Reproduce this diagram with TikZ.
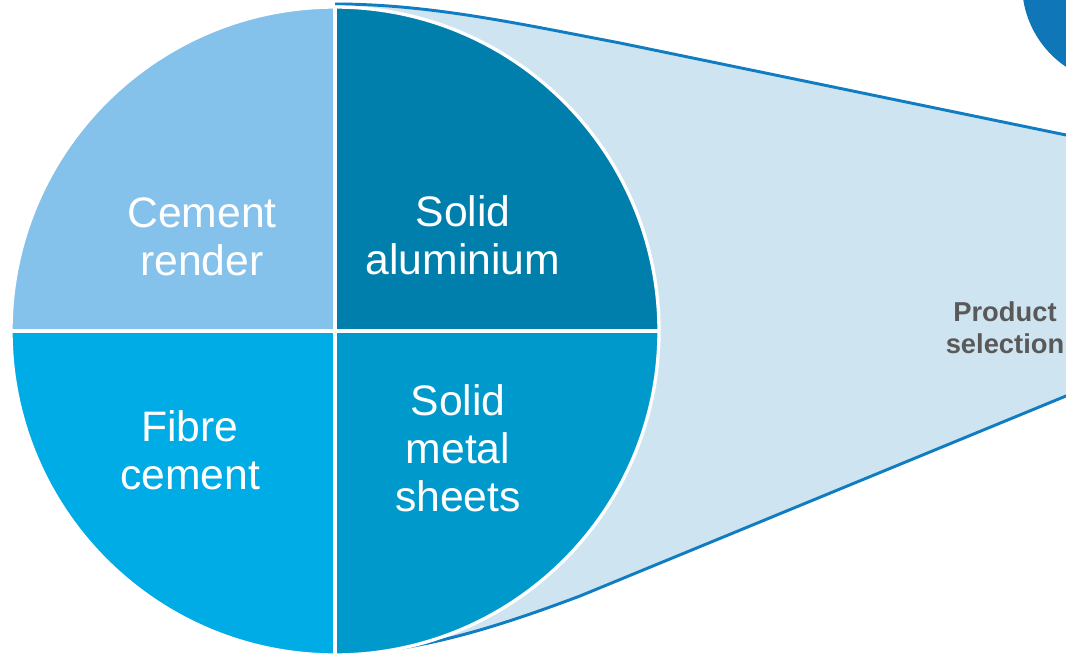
\documentclass[tikz,border=0pt]{standalone}
\usepackage{fontspec}
\setmainfont{Liberation Sans}
\definecolor{cementrender}{RGB}{133,194,235}
\definecolor{solidalu}{RGB}{0,127,172}
\definecolor{fibrecement}{RGB}{0,172,230}
\definecolor{solidmetal}{RGB}{0,153,204}
\definecolor{zoomfill}{RGB}{207,228,241}
\definecolor{zoomline}{RGB}{16,124,193}
\definecolor{labelgrey}{RGB}{89,89,89}
\begin{document}
\begin{tikzpicture}[x=0.75pt,y=0.75pt,
    quarter/.style={text=white, align=center, inner sep=0pt, font=\fontsize{32}{36}\selectfont},
    edge/.style={zoomline, line width=2.2pt}]
    \useasboundingbox (0,0) rectangle (1066,654);
    \clip (0,0) rectangle (1066,654);

    % zoom funnel behind the circle
    \coordinate (O) at (335,323);
    \coordinate (t0) at (335,650);
    \coordinate (t1) at (620,611);
    \coordinate (t2) at (1100,512);
    \coordinate (b0) at (340,0);
    \coordinate (b1) at (580,58);
    \coordinate (b2) at (1100,272);
    \fill[zoomfill] (t0) .. controls (430,650) and (520,630) .. (t1) -- (t2) -- (b2) -- (b1) .. controls (500,28) and (420,2) .. (b0) -- cycle;
    \draw[edge] (t0) .. controls (430,650) and (520,630) .. (t1) -- (t2);
    \draw[edge] (b0) .. controls (420,2) and (500,28) .. (b1) -- (b2);

    % next circle, cut by the corner
    \fill[zoomline!95!black] (1122,670) circle (100);

    % four quarters
    \foreach \a/\c in {0/solidalu, 90/cementrender, 180/fibrecement, 270/solidmetal}
        \fill[\c] (O) -- ++(\a:324) arc[start angle=\a, end angle=\a+90, radius=324] -- cycle;
    \draw[white, line width=2.5pt] (O) circle (324);
    \draw[white, line width=3pt] (O) ++(-324,0) -- ++(648,0);
    \draw[white, line width=3pt] (O) ++(0,-324) -- ++(0,648);

    \node[quarter] (cement) at (202,417) {Cement\\render};
    \node[quarter] (alu) at (463,419) {Solid\\aluminium};
    \node[quarter] (fibre) at (190,204) {Fibre\\cement};
    \node[quarter] (metal) at (458,206) {Solid\\metal\\sheets};
    \node[labelgrey, align=center, font=\bfseries\fontsize{20.5}{24}\selectfont] (product) at (1005,326) {Product\\selection};
\end{tikzpicture}
\end{document}
